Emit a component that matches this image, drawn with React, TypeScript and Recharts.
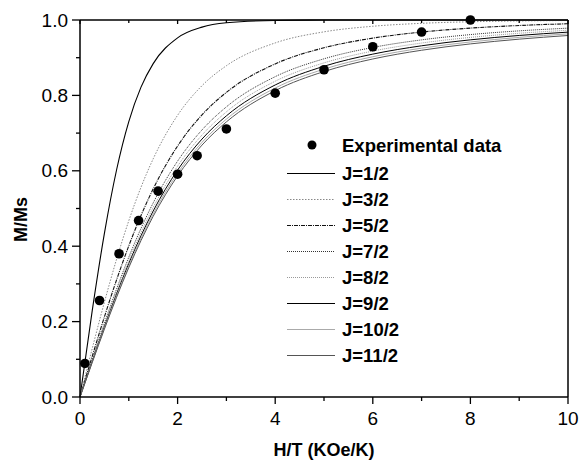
import React from 'react';
import { ComposedChart, Line, Scatter, XAxis, YAxis, Legend } from 'recharts';

// H/T sample points (KOe/K) for the computed curves
const hOverT = [0, 0.25, 0.5, 0.75, 1, 1.25, 1.5, 2, 2.5, 3, 4, 5, 6, 7, 8, 9, 10];

// M/Ms
const j1_2 = [0, 0.2284, 0.4341, 0.6028, 0.7306, 0.8219, 0.8843, 0.9527, 0.9811, 0.9925, 0.9988, 0.9998, 1.0, 1.0, 1.0, 1.0, 1.0];
const j3_2 = [0, 0.1283, 0.2515, 0.3656, 0.4676, 0.5563, 0.6318, 0.7473, 0.8258, 0.8787, 0.9392, 0.9686, 0.9834, 0.9912, 0.9953, 0.9975, 0.9986];
const j5_2 = [0, 0.1079, 0.2125, 0.3109, 0.4009, 0.4814, 0.5521, 0.6658, 0.7484, 0.8081, 0.8836, 0.9263, 0.9519, 0.968, 0.9785, 0.9854, 0.9901];
const j7_2 = [0, 0.0992, 0.1956, 0.2868, 0.371, 0.4472, 0.5149, 0.6257, 0.7084, 0.7696, 0.8497, 0.8971, 0.9272, 0.9473, 0.9613, 0.9712, 0.9784];
const j8_2 = [0, 0.0964, 0.1903, 0.2792, 0.3616, 0.4362, 0.5028, 0.6125, 0.6949, 0.7564, 0.8376, 0.8863, 0.9176, 0.9389, 0.9539, 0.9648, 0.9729];
const j9_2 = [0, 0.0943, 0.1861, 0.2733, 0.3542, 0.4277, 0.4934, 0.602, 0.6842, 0.7458, 0.8277, 0.8773, 0.9095, 0.9316, 0.9474, 0.959, 0.9678];
const j10_2 = [0, 0.0926, 0.1828, 0.2685, 0.3482, 0.4207, 0.4857, 0.5936, 0.6755, 0.7371, 0.8195, 0.8697, 0.9026, 0.9253, 0.9417, 0.9539, 0.9631];
const j11_2 = [0, 0.0912, 0.1801, 0.2646, 0.3433, 0.415, 0.4794, 0.5865, 0.6682, 0.7298, 0.8126, 0.8633, 0.8966, 0.9198, 0.9366, 0.9492, 0.9589];

// experimental points
const expH = [0.1, 0.4, 0.8, 1.2, 1.6, 2.0, 2.4, 3.0, 4.0, 5.0, 6.0, 7.0, 8.0];
const expM = [0.089, 0.256, 0.38, 0.468, 0.546, 0.591, 0.64, 0.711, 0.806, 0.868, 0.929, 0.968, 1.0];

const xTicks = [0, 1, 2, 3, 4, 5, 6, 7, 8, 9, 10];
const yTicks = [0, 0.1, 0.2, 0.3, 0.4, 0.5, 0.6, 0.7, 0.8, 0.9, 1.0];

const FONT = "'Liberation Sans', Arial, Helvetica, sans-serif";
const GAP = 20;

const series = [
  { key: 'j1', name: 'J=1/2', values: j1_2, color: '#000', dash: undefined, width: 1.1 },
  { key: 'j3', name: 'J=3/2', values: j3_2, color: '#888', dash: '1.5 1.5', width: 1 },
  { key: 'j5', name: 'J=5/2', values: j5_2, color: '#111', dash: '4 1 1 1', width: 1.1 },
  { key: 'j7', name: 'J=7/2', values: j7_2, color: '#333', dash: '1 1', width: 1 },
  { key: 'j8', name: 'J=8/2', values: j8_2, color: '#999', dash: '1 1', width: 1 },
  { key: 'j9', name: 'J=9/2', values: j9_2, color: '#000', dash: undefined, width: 1 },
  { key: 'j10', name: 'J=10/2', values: j10_2, color: '#aaa', dash: undefined, width: 1 },
  { key: 'j11', name: 'J=11/2', values: j11_2, color: '#555', dash: undefined, width: 1 },
];

const curveRows = hOverT.map((x, i) => {
  const row: Record<string, number> = { x };
  series.forEach((s) => { row[s.key] = s.values[i]; });
  return row;
});

const expRows = expH.map((x, i) => ({ x, y: expM[i] }));

const isMajorX = (v: number) => Math.round(v) % 2 === 0;
const isMajorY = (v: number) => Math.round(v * 10) % 2 === 0;

const BottomTick = (props: any) => {
  const { x, y, payload } = props;
  const axisY = y - GAP;
  const major = isMajorX(payload.value);
  return (
    <g>
      <line x1={x} y1={axisY} x2={x} y2={axisY + (major ? 7 : 4)} stroke="#000" strokeWidth={1.3} />
      {major && (
        <text x={x} y={axisY + 28} textAnchor="middle" fontSize={19} fontFamily={FONT} fill="#000">
          {payload.value}
        </text>
      )}
    </g>
  );
};

const LeftTick = (props: any) => {
  const { x, y, payload } = props;
  const axisX = x + GAP;
  const major = isMajorY(payload.value);
  return (
    <g>
      <line x1={axisX} y1={y} x2={axisX - (major ? 8 : 4)} y2={y} stroke="#000" strokeWidth={1.3} />
      {major && (
        <text x={axisX - 12} y={y + 6.5} textAnchor="end" fontSize={19} fontFamily={FONT} fill="#000">
          {payload.value.toFixed(1)}
        </text>
      )}
    </g>
  );
};

const TopTick = (props: any) => {
  const { x, y, payload } = props;
  const axisY = y + GAP;
  const len = isMajorX(payload.value) ? 4 : 3;
  return <line x1={x} y1={axisY} x2={x} y2={axisY + len} stroke="#000" strokeWidth={1.3} />;
};

const RightTick = (props: any) => {
  const { x, y, payload } = props;
  const axisX = x - GAP;
  const len = isMajorY(payload.value) ? 4 : 3;
  return <line x1={axisX} y1={y} x2={axisX - len} y2={y} stroke="#000" strokeWidth={1.3} />;
};

const XLabel = (props: any) => {
  const vb = props.viewBox;
  return (
    <text x={vb.x + vb.width / 2} y={vb.y + vb.height - 4} textAnchor="middle" fontSize={18} fontWeight="bold" fontFamily={FONT} fill="#000">
      H/T (KOe/K)
    </text>
  );
};

const YLabel = (props: any) => {
  const vb = props.viewBox;
  const cx = vb.x + 26.5;
  const cy = vb.y + vb.height / 2 + 11;
  return (
    <text x={0} y={0} transform={`translate(${cx}, ${cy}) rotate(-90)`} textAnchor="middle" fontSize={18} fontWeight="bold" fontFamily={FONT} fill="#000">
      M/Ms
    </text>
  );
};

const LegendBox = () => (
  <svg width={240} height={240} style={{ display: 'block', overflow: 'visible' }}>
    <circle cx={32} cy={15} r={4.5} fill="#000" />
    <text x={62} y={21.5} fontSize={18.5} fontWeight="bold" fontFamily={FONT} fill="#000">Experimental data</text>
    {series.map((s, i) => {
      const cy = 43.5 + i * 26;
      return (
        <g key={s.key}>
          <line x1={7} x2={55} y1={cy} y2={cy} stroke={s.color} strokeWidth={1} strokeDasharray={s.dash} />
          <text x={62} y={cy + 6.5} fontSize={18.5} fontWeight="bold" fontFamily={FONT} fill="#000">{s.name}</text>
        </g>
      );
    })}
  </svg>
);

const Dot = (props: any) => <circle cx={props.cx} cy={props.cy} r={4.8} fill="#000" />;

export default function App() {
  return (
    <div style={{ position: 'absolute', left: 0, top: 0, width: 580, height: 460, background: '#fff', fontFamily: FONT }}>
      <ComposedChart width={580} height={460} data={curveRows} margin={{ top: 19, right: 11, bottom: 0, left: 0 }}>
        <XAxis
          dataKey="x"
          type="number"
          domain={[0, 10]}
          ticks={xTicks}
          height={63}
          tickSize={0}
          tickMargin={GAP}
          tick={<BottomTick />}
          axisLine={{ stroke: '#000', strokeWidth: 1.5 }}
          tickLine={false}
          interval={0}
          label={(p: any) => <XLabel {...p} />}
        />
        <XAxis
          xAxisId="top"
          orientation="top"
          dataKey="x"
          type="number"
          domain={[0, 10]}
          ticks={xTicks}
          height={1}
          tickSize={0}
          tickMargin={GAP}
          tick={<TopTick />}
          axisLine={{ stroke: '#000', strokeWidth: 1.5 }}
          tickLine={false}
          interval={0}
        />
        <YAxis
          type="number"
          domain={[0, 1]}
          ticks={yTicks}
          width={80}
          tickSize={0}
          tickMargin={GAP}
          tick={<LeftTick />}
          axisLine={{ stroke: '#000', strokeWidth: 1.5 }}
          tickLine={false}
          interval={0}
          label={(p: any) => <YLabel {...p} />}
        />
        <YAxis
          yAxisId="right"
          orientation="right"
          type="number"
          domain={[0, 1]}
          ticks={yTicks}
          width={1}
          tickSize={0}
          tickMargin={GAP}
          tick={<RightTick />}
          axisLine={{ stroke: '#000', strokeWidth: 1.5 }}
          tickLine={false}
          interval={0}
        />
        {series.map((s) => (
          <Line
            key={s.key}
            type="monotone"
            dataKey={s.key}
            name={s.name}
            stroke={s.color}
            strokeWidth={s.width}
            strokeDasharray={s.dash}
            dot={false}
            activeDot={false}
            isAnimationActive={false}
          />
        ))}
        <Scatter data={expRows} dataKey="y" name="Experimental data" shape={<Dot />} isAnimationActive={false} />
        <Legend
          layout="vertical"
          align="center"
          verticalAlign="middle"
          wrapperStyle={{ position: 'absolute', left: 280, top: 130, width: 240, height: 240 }}
          content={() => <LegendBox />}
        />
      </ComposedChart>
    </div>
  );
}
